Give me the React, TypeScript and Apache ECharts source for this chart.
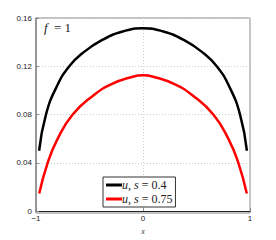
import React, { useEffect, useRef } from "react";
import * as echarts from "echarts";

const xTicks = [-1, 0, 1];
const yTicks = [0, 0.04, 0.08, 0.12, 0.16];
const seriesNames = ["u, s = 0.4", "u, s = 0.75"];
const xHalf = [-0.971, -0.907, -0.804, -0.689, -0.564, -0.377, -0.19, 0];
const u04Half = [0.05, 0.08, 0.1036, 0.12, 0.131, 0.142, 0.1488, 0.1515];
const xHalfRed = [-0.97, -0.891, -0.797, -0.657, -0.47, -0.299, -0.096, 0];
const u075Half = [0.0145, 0.04, 0.06, 0.08, 0.0954, 0.105, 0.1113, 0.1125];

function mirror(xh: number[], yh: number[]) {
  const pts: number[][] = xh.map((x, i) => [x, yh[i]]);
  for (let i = xh.length - 2; i >= 0; i--) pts.push([-xh[i], yh[i]]);
  return pts;
}

export default function App() {
  const ref = useRef<HTMLDivElement>(null);
  useEffect(() => {
    document.body.style.margin = "0";
    const chart = echarts.init(ref.current!, null, { renderer: "svg" });
    const serif = "Liberation Serif";
    const legendFmt = (name: string) => {
      const rest = name.replace("u, s", "");
      return "{i|u}, {i|s}" + rest;
    };
    chart.setOption({
      animation: false,
      grid: { left: 36, right: 26, top: 18, bottom: 27 },
      xAxis: {
        type: "value",
        min: xTicks[0],
        max: xTicks[xTicks.length - 1],
        interval: 1,
        name: "x",
        nameLocation: "middle",
        nameGap: 11,
        nameTextStyle: { fontFamily: serif, fontStyle: "italic", fontSize: 8, color: "#333" },
        axisLine: { show: true, onZero: false, lineStyle: { color: "#222", width: 1 } },
        axisTick: { show: true, inside: true, length: 3, lineStyle: { color: "#888" } },
        axisLabel: {
          fontFamily: "Liberation Sans",
          fontSize: 8,
          color: "#222",
          margin: 3,
          formatter: (v: number) => (v < 0 ? "\u2212" + Math.abs(v) : String(v)),
        },
        splitLine: { show: true, lineStyle: { color: "#ccc", type: [1, 2], width: 1 } },
      },
      yAxis: {
        type: "value",
        min: yTicks[0],
        max: yTicks[yTicks.length - 1],
        interval: 0.04,
        axisLine: { show: true, onZero: false, lineStyle: { color: "#888", width: 1.5 } },
        axisTick: { show: true, inside: true, length: 3, lineStyle: { color: "#888" } },
        axisLabel: {
          fontFamily: "Liberation Sans",
          fontSize: 8,
          color: "#222",
          margin: 4,
          formatter: (v: number) => (v === 0 ? "0" : String(Number(v.toFixed(2)))),
        },
        splitLine: { show: true, lineStyle: { color: "#ccc", type: [1, 2], width: 1 } },
      },
      legend: {
        left: 103,
        top: 177,
        orient: "vertical",
        borderColor: "#333",
        borderWidth: 1,
        backgroundColor: "#fff",
        borderRadius: 0,
        padding: [2, 3, 2, 3],
        itemGap: 2,
        itemWidth: 16,
        itemHeight: 3,
        icon: "rect",
        formatter: legendFmt,
        textStyle: {
          fontFamily: serif,
          fontSize: 12,
          color: "#222",
          padding: [0, 0, 0, -5],
          rich: { i: { fontFamily: serif, fontStyle: "italic", fontSize: 12, color: "#222" } },
        },
        data: seriesNames,
      },
      graphic: [
        {
          type: "group",
          left: 44,
          top: 21,
          children: [
            { type: "text", x: 0, y: 0, style: { text: "f", font: "italic 13px 'Liberation Serif'", fill: "#222" } },
            { type: "text", x: 10, y: 0, style: { text: "= 1", font: "13px 'Liberation Serif'", fill: "#222" } },
          ],
        },
        {
          type: "rect",
          shape: { x: 36, y: 18, width: 214, height: 195 },
          style: { fill: "none", stroke: "#888", lineWidth: 1 },
          silent: true,
          z: -1,
        },
      ],
      series: [
        {
          name: seriesNames[0],
          type: "line",
          smooth: 0.5,
          showSymbol: false,
          lineStyle: { color: "#000", width: 2.5 },
          itemStyle: { color: "#000" },
          data: mirror(xHalf, u04Half),
        },
        {
          name: seriesNames[1],
          type: "line",
          smooth: 0.5,
          showSymbol: false,
          lineStyle: { color: "#ff0000", width: 2.5 },
          itemStyle: { color: "#ff0000" },
          data: mirror(xHalfRed, u075Half),
        },
      ],
    });
    return () => chart.dispose();
  }, []);
  return <div ref={ref} style={{ width: 276, height: 240 }} />;
}
